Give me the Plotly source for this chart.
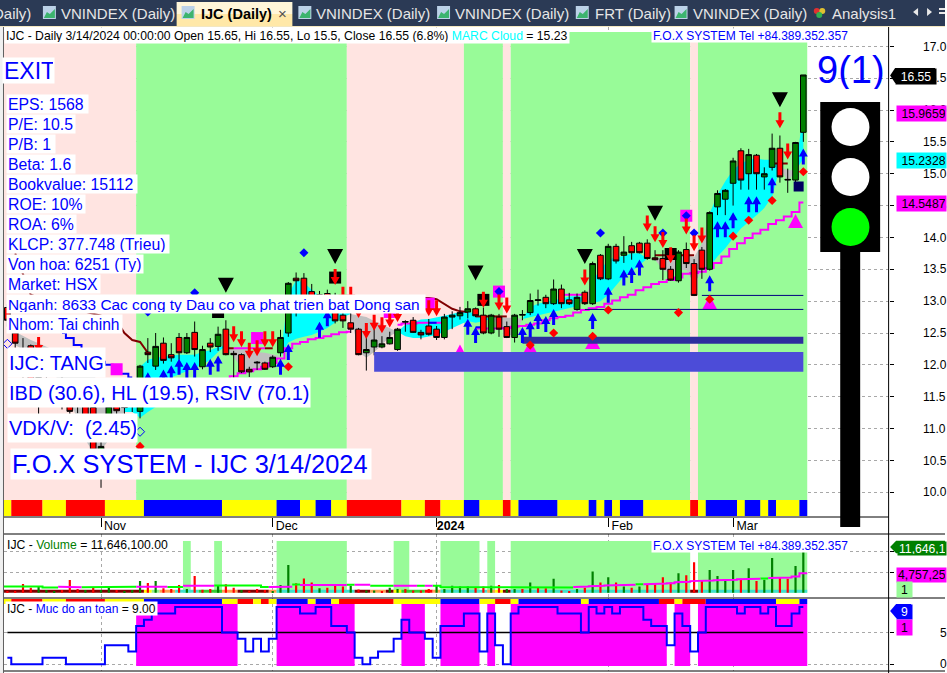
import plotly.graph_objects as go

W, H = 947, 673
N = 103
bar_index = list(range(N))

# ---------- price candles (bar 0 .. bar 102) ----------
opens = [12.90,12.50,11.85,12.30,11.45,11.65,11.50,11.70,11.60,11.42,11.60,11.33,10.45,10.90,11.35,11.33,11.35,11.27,12.20,11.98,
         12.34,12.16,12.43,12.19,12.51,11.97,12.34,12.29,12.56,12.18,12.16,11.93,12.03,12.03,11.97,12.19,12.50,13.36,13.36,13.15,
         13.10,13.12,13.00,12.78,12.66,12.56,12.19,12.28,12.28,12.33,12.24,12.67,12.70,12.51,12.61,12.56,12.43,12.75,12.77,12.83,
         12.88,12.78,12.50,12.75,12.60,12.43,12.78,12.82,13.01,13.06,12.96,13.19,13.02,12.87,13.14,12.96,13.72,13.35,13.86,13.72,
         13.87,13.91,13.91,13.68,13.67,13.50,13.32,13.81,13.59,13.80,13.50,14.48,14.60,14.85,15.36,15.00,15.29,14.95,15.10,15.40,
         14.90,14.90,15.65]
highs = [12.95,12.60,12.42,12.32,12.10,11.85,11.70,11.90,11.75,11.60,11.70,11.45,10.80,11.50,11.50,11.50,11.50,12.00,12.42,12.50,
         12.43,12.34,12.50,12.50,12.68,12.30,12.42,12.60,12.70,12.22,12.18,11.97,12.06,12.05,12.15,12.55,13.30,13.45,13.44,13.27,
         13.16,13.18,13.13,13.00,12.82,12.58,12.55,12.60,12.45,12.52,12.58,12.70,12.75,12.55,12.72,12.61,12.80,12.84,12.91,13.00,
         12.90,12.90,12.80,12.80,12.68,12.80,12.86,13.12,13.18,13.10,13.34,13.26,13.13,13.12,13.17,13.62,13.74,13.90,13.90,14.02,
         13.93,13.93,13.97,13.80,13.80,13.55,13.80,13.92,13.66,13.85,14.41,14.74,14.76,15.25,15.40,15.39,15.31,15.10,15.63,15.60,
         15.08,15.50,16.55]
lows = [12.60,12.25,11.70,11.40,11.20,11.35,11.35,11.30,11.22,11.24,11.10,10.60,10.07,10.80,11.10,11.20,11.26,11.16,12.03,11.92,
        12.02,12.05,12.08,12.17,12.13,11.93,12.20,12.22,12.15,11.80,11.87,11.81,11.92,11.92,11.95,12.13,12.44,12.76,12.85,12.90,
        12.85,12.85,12.65,12.58,12.50,12.15,11.91,12.15,12.26,12.32,12.22,12.52,12.50,12.40,12.46,12.39,12.40,12.56,12.71,12.73,
        12.75,12.48,12.48,12.44,12.42,12.35,12.70,12.78,12.93,12.89,12.94,12.89,12.94,12.85,12.94,12.94,13.33,13.33,13.59,13.60,
        13.65,13.75,13.65,13.64,13.33,13.32,13.29,13.52,13.08,13.35,13.48,14.35,14.35,14.50,14.75,14.75,14.75,14.75,15.05,14.86,
        14.70,14.75,15.50]
closes = [12.70,12.34,12.05,11.50,11.80,11.45,11.58,11.42,11.27,11.36,11.20,10.66,10.72,11.35,11.28,11.34,11.38,11.98,12.16,12.29,
          12.07,12.11,12.19,12.43,12.24,12.24,12.28,12.48,12.16,12.16,11.89,11.89,12.04,11.93,12.12,12.43,13.28,13.32,12.90,13.00,
          12.95,12.95,12.69,12.69,12.56,12.16,12.24,12.39,12.33,12.43,12.56,12.68,12.51,12.47,12.48,12.43,12.75,12.78,12.82,12.88,
          12.77,12.50,12.78,12.56,12.43,12.78,12.79,13.01,13.02,12.96,13.19,12.96,12.96,13.06,12.96,13.59,13.35,13.86,13.63,13.77,
          13.76,13.76,13.67,13.65,13.50,13.33,13.77,13.59,13.09,13.50,14.39,14.69,14.74,15.20,14.90,15.30,15.00,15.00,15.40,14.95,
          14.91,15.49,16.55]

# ---------- MARC cloud ----------
cloud_upper = [None,12.52,12.45,12.39,12.34,12.28,12.23,12.15,12.08,12.00,11.92,11.84,11.69,11.61,11.51,11.37,11.53,11.97,12.08,12.11,
               12.13,12.14,12.16,12.16,12.16,12.20,12.23,12.28,12.30,12.25,12.25,12.22,12.20,12.19,12.17,12.14,13.10,13.33,13.29,13.18,
               13.08,13.05,13.02,12.94,12.80,12.78,12.75,12.69,12.63,12.58,12.52,12.63,12.67,12.71,12.72,12.74,12.77,12.80,12.83,12.83,
               12.81,12.75,12.72,12.74,12.74,12.74,12.72,12.91,12.96,12.99,13.02,13.05,13.07,13.08,13.05,13.33,13.49,13.65,13.69,13.71,
               13.75,13.75,13.67,13.67,13.69,13.70,13.73,13.73,13.69,13.90,14.38,14.67,14.88,15.06,15.16,15.22,15.24,15.22,15.22,15.10,
               15.06,15.05,15.97]
cloud_lower = [None,12.31,12.24,12.16,12.08,11.97,11.85,11.69,11.45,11.14,10.82,10.63,10.66,10.82,11.05,11.26,11.26,11.17,11.26,11.34,
               11.53,11.80,11.86,11.91,11.95,12.00,12.08,12.20,12.30,12.12,11.95,11.89,11.92,12.00,12.08,12.14,12.35,12.41,12.44,12.47,
               12.52,12.58,12.66,12.75,12.80,12.20,12.11,12.20,12.31,12.45,12.52,12.45,12.42,12.42,12.44,12.47,12.52,12.58,12.63,12.69,
               12.66,12.69,12.72,12.63,12.49,12.44,12.72,12.75,12.77,12.80,12.83,12.86,12.89,12.92,13.05,12.97,13.00,13.10,13.25,13.39,
               13.46,13.57,13.67,13.65,13.49,13.44,13.49,13.49,13.28,13.46,13.54,13.70,13.83,13.99,14.14,14.25,14.35,14.46,14.64,15.10,
               14.87,15.05,15.23]
cloud_kind = ("-" + "G"*14 + "C"*13 + "G"*7 + "C"*9 + "G"*6 + "C"*12 + "G"*4 + "C"*8 + "G"*1
              + "C"*7 + "G"*8 + "C"*9 + "G"*2 + "C"*2)

# ---------- overlay lines ----------
magenta_line = [None]*18 + [11.36,11.36,11.40,11.44,11.48,11.52,11.56,11.60,11.64,11.70,11.76,11.82,11.87,11.90,11.93,11.97,12.03,12.10,
                12.26,12.33,12.36,12.40,12.42,12.45,12.48,12.51,12.52,None,None,None,None,None,12.63,12.65,12.65,12.66,12.66,12.66,12.66,
                None,None,None,12.57,12.57,12.57,12.57,12.58,12.60,12.61,12.63,12.65,12.70,12.73,12.75,12.77,12.82,12.86,12.89,12.91,12.96,
                13.01,13.06,13.10,13.17,13.22,13.27,13.30,13.33,13.37,13.43,13.44,13.46,13.52,13.60,13.70,13.82,13.91,13.99,14.06,14.12,
                14.21,14.27,14.33,14.40,14.55]
upper_magenta_index = [29,30,31,32,33, None, 48,49, None, 71,72,73,74]
upper_magenta_price = [12.26,12.26,12.26,12.26,12.26, None, 12.83,12.83, None, 13.10,13.10,13.10,13.10]
brown_index = [1,2,3,4,5,6,7,8,9,10,11,12,13,14,15,16,17,18,None,28,29,None,33,34,None,53,54,55,56,57,58,59,None,60,61,62,63,64,None,83,84,85,86,87,88,None,98,99,100]
brown_price = [13.75,13.43,13.10,13.05,13.00,12.96,12.93,12.90,12.87,12.84,12.80,12.77,12.73,12.69,12.50,12.39,12.36,12.19,None,12.26,12.26,None,12.26,12.26,None,13.05,13.05,13.03,12.95,12.88,12.84,12.83,None,12.76,12.76,12.76,12.76,12.76,None,13.72,13.72,13.72,13.72,13.72,13.72,None,15.16,15.16,15.16]
blue_index = [7,8,9,10,11,12,13,14,15,16,None,54,55,None,60,61]
blue_price = [12.50,12.42,12.31,12.20,12.10,12.05,12.00,11.95,11.86,11.80,None,12.66,12.66,None,12.59,12.59]

# ---------- signals (bar index, price) ----------
red_arrow_i = [99,100,74,82,83,84,85,87,88,89,54,55,61,63,64,42,29,30,31,32,33,34,43,44,45,46,47,48,49,50,4]
red_arrow_p = [15.84,15.35,13.37,14.22,14.05,13.96,13.72,14.17,13.91,14.03,12.89,12.89,13.02,12.98,12.93,13.38,12.48,12.40,12.22,12.26,12.40,12.40,13.10,13.10,12.86,12.53,12.66,12.62,12.71,12.80,12.31]
blue_arrow_i = [102,98,96,95,93,92,91,90,77,79,80,81,75,70,69,68,67,66,59,60,26,27,36,35,40,41,37,22,23,24,21,20,18]
blue_arrow_p = [15.27,14.82,14.52,14.52,14.27,14.13,14.13,13.28,13.10,13.37,13.41,13.53,12.69,12.75,12.64,12.69,12.56,12.47,12.60,12.47,11.97,12.02,12.20,11.97,12.55,12.73,12.94,11.97,11.92,11.92,11.87,11.80,11.76]
black_tri_i = [28,42,60,74,83,99]
black_tri_p = [13.25,13.70,13.44,13.70,14.38,16.16]
magenta_tri_i = [90,101,75,67,58]
magenta_tri_p = [12.97,14.25,12.35,12.27,12.20]
red_dot_i = [102,98,95,93,90,77,86,70,67,75,36,17]
red_dot_p = [15.03,14.58,14.27,14.02,13.03,12.86,12.82,12.50,12.31,12.45,11.97,10.72]
blue_dot_i = [38,63,76,84,87,88,24,18]
blue_dot_p = [13.76,13.15,14.07,14.07,14.34,14.07,13.13,12.83]
open_dot_i = [0,17]
open_dot_p = [12.33,10.95]
magenta_sq_i = [87,63,32,14,54,49]
magenta_sq_p = [14.34,13.15,12.42,11.93,12.96,12.83]
black_sq_i = [42,27,61,85]
black_sq_p = [13.37,12.83,13.02,13.74]
navy_sq_i = [101.4]
navy_sq_p = [14.80]

# ---------- support zones and levels ----------
zone_light = dict(start=47, end=102, low=11.89, high=12.20)
zone_dark = dict(start=66, end=102, low=12.33, high=12.44)
level_a = dict(start=74, end=102, price=12.87)
level_b = dict(start=89, end=102, price=13.09)

# ---------- per-bar regime strings ----------
regime = "P"*17 + "V"*27 + "P"*15 + "V"*5 + "P"*1 + "V"*23 + "P"*1 + "V"*14
strip_main = ("Y"+"R"*4+"Y"*3+"R"*5+"Y"*5+"B"*10+"Y"*7+"B"*3+"Y"*2+"B"*2+"Y"*2+"R"*7+"Y"*3+"R"*2+"Y"*3+"B"*2+"Y"*3+"R"+"Y"+"B"*5
              +"Y"*4+"B"+"Y"+"B"+"Y"+"B"*3+"Y"*6+"R"+"Y"+"B"*4+"Y"+"B"*2+"Y"+"B"+"Y"*3+"B")
strip_safety = ("Y"+"R"*4+"Y"*3+"R"*5+"Y"*5+"B"*10+"Y"*2+"R"*2+"Y"+"R"+"Y"+"B"*4+"Y"+"B"*2+"Y"+"R"*7+"Y"*6+"B"*5+"Y"*2+"R"*2+"Y"
                +"B"*8+"Y"+"B"*9+"R"*2+"Y"+"R"*3+"B"*9+"Y"*3+"B")
vol_band = "."*23+"V"+"."*3+"V"+"."*7+"V"*9+"."*6+"V"*2+"."*4+"V"*5+"."+"V"+"."*2+"V"*23+"."+"V"*14
safety_band = "."*17+"M"*13+"."*5+"M"*10+"."*6+"M"*3+"."*2+"M"*5+"."+"M"+"."*2+"M"*20+"."+"M"*2+"."+"M"*14
vol_strip = ("D"*18+"Y"+"L"+"O"*2+"T"*3+"G"*3+"O"*2+"D"*4+"O"+"T"*10+"D"*2+"O"*2+"D"+"Y"+"G"*3+"R"+"O"+"T"*6+"O"+"Y"+"D"+"T"*23+"D"+"T"*14)

# ---------- volume (millions of shares) ----------
volume = [0.3,0.3,2.13,1.2,1.47,0.65,0.4,0.65,3.1,0.9,0.65,1.3,0.65,1.6,0.65,0.4,0.65,2.9,2.4,2.9,
          1.1,0.9,1.9,0.9,4.1,0.75,0.9,1.7,2.05,1.2,0.65,0.5,0.9,0.65,0.4,1.9,6.8,2.3,3.5,2.5,
          1.1,1.2,2.05,1.5,1.7,0.8,0.55,0.55,0.4,1.2,0.9,0.9,0.55,0.55,0.9,1.7,0.9,1.7,1.5,1.5,
          1.2,1.5,1.7,1.9,0.9,0.9,0.9,2.5,1.2,1.1,3.4,0.55,0.3,0.9,1.2,5.2,2.5,3.8,2.5,1.55,
          1.2,1.55,1.9,2.05,3.8,2.5,4.8,4.3,7.5,3.1,5.6,4.1,2.9,5.6,3.4,6.0,2.9,3.2,8.5,3.6,
          3.4,6.55,11.646]
volume_ma = [1.5,1.5,1.5,1.5,1.5,1.3,1.3,1.45,1.45,1.35,1.35,1.3,1.3,1.3,1.3,1.3,1.45,1.45,1.45,1.45,
             1.45,1.4,1.4,1.7,1.7,1.7,1.7,1.8,1.8,1.8,1.8,1.8,1.8,1.4,1.4,1.45,1.45,2.0,1.9,1.9,
             1.9,1.9,1.9,1.9,1.95,1.95,1.95,1.7,1.7,1.7,1.7,1.7,1.7,1.7,1.7,1.7,1.4,1.4,1.4,1.4,
             1.4,1.25,1.25,1.25,1.25,1.25,1.25,1.3,1.3,1.3,1.3,1.3,1.3,1.4,1.5,1.6,1.7,1.8,1.85,1.9,
             1.95,2.05,2.1,2.15,2.25,2.35,2.55,2.7,2.85,2.95,3.0,3.05,3.1,3.2,3.3,3.45,3.45,3.5,3.6,3.65,
             3.75,4.0,4.76]
volume_ma_state = "L"*7+"M"*3+"L"*7+"M"*4+"L"*2+"M"*4+"L"*7+"M"*3+"L"+"M"*6+"L"+"M"*2+"L"*3+"M"*3+"L"+"M"+"L"*18+"M"*8+"L"+"M"*15+"L"+"M"*5

# per-bar colour of the volume columns, read left to right
volume_color = list("RRRRGGGRRRGRGGRGGGRG"
                    "RRRGRRRGRRGRRRGGGRRR"
                    "GRRRGRGGRGGRRRRGGGGG"
                    "RRGRGGRGRRGRRGRGRGRG"
                    "RGRRRRGRRRGGGGRGRGGR"
                    "RGG")

# ---------- safety score ----------
safety = [1,0,0,0,0,1,1,1,0,0,0,0,0,3,3,3,2,6,7,8,8,8,9,9,9,9,9,9,5,5,4,2,4,2,4,9,9,9,8,8,
          9,9,6,6,5,1,0,1,2,2,4,7,5,5,4,1,6,6,6,8,8,2,8,3,0,8,9,9,9,9,9,8,8,8,5,9,8,9,8,9,
          9,9,7,6,6,3,8,6,2,5,9,9,9,9,8,9,9,8,9,6,6,8,9]
safety_mid = [5]*N

# ---------- axes ----------
month_ticks = [12,34,55,77,93]
month_labels = ["Nov","Dec","<b>2024</b>","Feb","Mar"]
price_ticks = [10.0,10.5,11.0,11.5,12.0,12.5,13.0,13.5,14.0,14.5,15.0,15.5,16.0,16.5,17.0]
volume_ticks = [5,10]
safety_ticks = [0,5]

# ---------- pixel helpers (style only) ----------
PX_X = 1/7.82
PX_Y = 0.015696
price_range = [17-(517-46.3)*PX_Y, 17+(46.3-27)*PX_Y]
x_range = [-0.435, 112.93]
vol_range = [-1.3, 14.42]
safety_range = [-1.07, 10.42]
def dom(top, bottom): return [1-bottom/H, 1-top/H]
def px(x): return x/W
def py(y): return 1-y/H

RED, YEL, BLU = "#ff0000", "#ffff00", "#0000ff"
PALE, PINK, MAG = "#98fb98", "#ffe4e1", "#ff00ff"
code_col = {"R":RED,"Y":YEL,"B":BLU,"P":PINK,"V":PALE,"M":MAG,"D":"#800000","O":"#ffa050","T":"#40e0d0","G":"#32cd32","L":"#90ee90"}

def runs(code):
    out, s = [], 0
    for k in range(1, len(code)+1):
        if k == len(code) or code[k] != code[s]:
            out.append((s, k, code[s])); s = k
    return out

shapes = []
def strip(code, lo, hi, xref, yref):
    for a, b, c in runs(code):
        if c in code_col:
            shapes.append(dict(type="rect", xref=xref, yref=yref, x0=a-.5, x1=b-.5, y0=lo, y1=hi,
                               fillcolor=code_col[c], line_width=0, layer="between"))
strip(regime, 17-(516-46.3)*PX_Y, 17+(46.3-32)*PX_Y, "x", "y")
strip(strip_main, 17-(516-46.3)*PX_Y, 17-(500-46.3)*PX_Y, "x", "y")
strip(vol_band, 0, 12.7, "x2", "y2")
strip(vol_strip, 0, 0.74, "x2", "y2")
strip(safety_band, -0.3, 9.46, "x3", "y3")
strip(strip_safety, 9.46, 10.26, "x3", "y3")

def prect(x0, y0, x1, y1, fill, line=0, lc=None):
    shapes.append(dict(type="rect", xref="paper", yref="paper", x0=px(x0), x1=px(x1), y0=py(y1), y1=py(y0),
                       fillcolor=fill, line=dict(width=line, color=lc or fill), layer="above"))
def pline(x0, y0, x1, y1, c="black", w=1):
    shapes.append(dict(type="line", xref="paper", yref="paper", x0=px(x0), x1=px(x1), y0=py(y0), y1=py(y1),
                       line=dict(color=c, width=w), layer="above"))
def pcircle(cx, cy, r, fill):
    shapes.append(dict(type="circle", xref="paper", yref="paper", x0=px(cx-r), x1=px(cx+r), y0=py(cy+r), y1=py(cy-r),
                       fillcolor=fill, line_width=0, layer="above"))
def ppath(points, fill):
    d = "M" + " L".join(f"{px(a):.5f},{py(b):.5f}" for a, b in points) + " Z"
    shapes.append(dict(type="path", xref="paper", yref="paper", path=d, fillcolor=fill, line_width=0, layer="above"))

fig = go.Figure()

# cloud polygons on the base layer
def cloud_polygon(kind):
    xs, ys = [], []
    for a, b, c in runs(cloud_kind):
        if c != kind: continue
        rng = list(range(a, min(b+1, N)))
        xs += rng + rng[::-1] + [rng[0], None]
        ys += [cloud_upper[k] for k in rng] + [cloud_lower[k] for k in rng[::-1]] + [cloud_upper[rng[0]], None]
    return xs, ys
for kind, col in (("G", "#c0c0c0"), ("C", "#00ffff")):
    xs, ys = cloud_polygon(kind)
    fig.add_trace(go.Scatter(x=xs, y=ys, mode="lines", fill="toself", fillcolor=col, line=dict(width=0), hoverinfo="skip", yaxis="y", showlegend=False))

def line(x, y, col, w=2, shape="hvh", yaxis="y"):
    fig.add_trace(go.Scatter(x=x, y=y, mode="lines", line=dict(color=col, width=w, shape=shape), connectgaps=False,
                             hoverinfo="skip", yaxis=yaxis, showlegend=False))
line(bar_index, magenta_line, MAG)
line(upper_magenta_index, upper_magenta_price, MAG)
line(brown_index, brown_price, "#800000", 2, "linear")
line(blue_index, blue_price, BLU, 2, "hvh")

# candles on the first overlay
fig.add_trace(go.Candlestick(x=bar_index, open=opens, high=highs, low=lows, close=closes, yaxis="y4",
                             increasing=dict(fillcolor="#008000", line=dict(color="black", width=1)),
                             decreasing=dict(fillcolor="#ff0000", line=dict(color="black", width=1)),
                             whiskerwidth=0, hoverinfo="skip", showlegend=False))

# signals on the second overlay
ARROW_UP = [(0,8),(4.5,0),(1.5,0),(1.5,-8),(-1.5,-8),(-1.5,0),(-4.5,0)]
ARROW_DN = [(a,-b) for a,b in ARROW_UP]
TRI_DN = [(-8,7.5),(8,7.5),(0,-7.5)]
TRI_UP = [(-7.5,-6.5),(7.5,-6.5),(0,7.5)]
def glyphs(idx, price, outline, col):
    xs, ys = [], []
    for i, p in zip(idx, price):
        for a, b in outline + outline[:1]:
            xs.append(i + a*PX_X); ys.append(p + b*PX_Y)
        xs.append(None); ys.append(None)
    fig.add_trace(go.Scatter(x=xs, y=ys, mode="lines", fill="toself", fillcolor=col, line=dict(width=0),
                             hoverinfo="skip", yaxis="y5", showlegend=False))
def dots(idx, price, sym, size, col, lw=0):
    fig.add_trace(go.Scatter(x=idx, y=price, mode="markers", yaxis="y5", hoverinfo="skip", showlegend=False,
                             marker=dict(symbol=sym, size=size, color=col, line=dict(width=lw, color=col))))
dots(magenta_sq_i, magenta_sq_p, "square", 12, MAG)
dots(black_sq_i, black_sq_p, "square", 12, "black")
dots(navy_sq_i, navy_sq_p, "square", 10, "#000060")
glyphs(magenta_tri_i, magenta_tri_p, TRI_UP, MAG)
for z, col in ((zone_light, "#4c4cd8"), (zone_dark, "#2e2e9e")):
    fig.add_trace(go.Scatter(x=[z["start"], z["end"], z["end"], z["start"], z["start"]],
                             y=[z["low"], z["low"], z["high"], z["high"], z["low"]],
                             mode="lines", fill="toself", fillcolor=col, line=dict(width=0), hoverinfo="skip", yaxis="y5", showlegend=False))
for lv in (level_a, level_b):
    fig.add_trace(go.Scatter(x=[lv["start"], lv["end"]], y=[lv["price"], lv["price"]], mode="lines",
                             line=dict(color="#000080", width=1), hoverinfo="skip", yaxis="y5", showlegend=False))
dots(red_dot_i, red_dot_p, "diamond", 7, RED)
dots(blue_dot_i, blue_dot_p, "diamond", 7, BLU)
dots(open_dot_i, open_dot_p, "diamond-open", 7, BLU, 1)
glyphs(black_tri_i, black_tri_p, TRI_DN, "black")
glyphs(red_arrow_i, red_arrow_p, ARROW_DN, RED)
glyphs(blue_arrow_i, blue_arrow_p, ARROW_UP, BLU)

# volume panel
vol_cols = ["#008000" if c == "G" else RED for c in volume_color]
fig.add_trace(go.Bar(x=bar_index, y=volume, width=0.28, marker=dict(color=vol_cols, line_width=0), xaxis="x2", yaxis="y2", hoverinfo="skip", showlegend=False))
def step_runs(state):
    xs, ys = [], []
    for k in bar_index:
        if volume_ma_state[k] == state:
            xs += [k-.5, k+.5]; ys += [volume_ma[k]]*2
            if k+1 == N or volume_ma_state[k+1] != state:
                xs.append(None); ys.append(None)
    return xs, ys
for st, col in (("L", "#00ff00"), ("M", MAG)):
    xs, ys = step_runs(st)
    fig.add_trace(go.Scatter(x=xs, y=ys, mode="lines", line=dict(color=col, width=2), xaxis="x2", yaxis="y2", hoverinfo="skip", showlegend=False))

# safety panel
fig.add_trace(go.Scatter(x=bar_index, y=safety_mid, mode="lines", line=dict(color="black", width=1.5), xaxis="x3", yaxis="y3", hoverinfo="skip", showlegend=False))
fig.add_trace(go.Scatter(x=bar_index, y=safety, mode="lines", line=dict(color=BLU, width=2, shape="hvh"), xaxis="x3", yaxis="y3", hoverinfo="skip", showlegend=False))

# chrome
prect(0, 0, W, 26, "#2b3a55")
prect(0, 26, W, 27, "#f3e7c0")
prect(0, 27, 3.5, H, "#f0f0f0")
pline(3.5, 27, 3.5, H, "#606060", 1)
pline(4, 517, 890.5, 517)
pline(4, 534, W, 534)
pline(4, 598, W, 598)
pline(4, 671, W, 671)
pline(890.5, 27, 890.5, H)
prect(177, 2, 293, 14, "#fff6d9")
prect(177, 14, 293, 26, "#ffe8a8")
for ix in (43, 182, 299, 438, 577, 676):
    prect(ix, 6, ix+13, 19, "#bcd2e8")
    ppath([(ix+1,18),(ix+4,12),(ix+7,14),(ix+12,9),(ix+12,18)], "#3cb46e")
pcircle(818.5, 11, 3, "#e03030")
pcircle(824, 11, 3, "#e0c030")
pcircle(821, 15, 3, "#30b050")
ppath([(915,12),(920,8),(920,16)], "#e8e8e8")
ppath([(934,12),(929,8),(929,16)], "#e8e8e8")
prect(941, 8, 947, 10, "#e8e8e8")
prect(941, 12, 947, 14, "#e8e8e8")
# traffic light
prect(842, 252, 862, 527, "black")
prect(822, 102, 882, 252, "black")
pcircle(852.3, 127, 19, "white")
pcircle(852.3, 177, 19, "white")
pcircle(852.3, 227, 19, "#00ff00")
# price tags
ppath([(892,75.5),(897,68),(937,68),(937,83),(897,83)], "black")
ppath([(892,547),(898,540.7),(947,540.7),(947,553.3),(898,553.3)], "#008000")
ppath([(892,611),(898,604),(913,604),(913,618),(898,618)], BLU)

FONT = "Liberation Sans"
anns = []
def label(text, x, y, w, h, size, color=BLU, bg="white", align="left"):
    anns.append(dict(text=text, xref="paper", yref="paper", x=px(x), y=py(y), xanchor="left", yanchor="top",
                     width=max(w-2, 1), height=max(h-2, 1), align=align, valign="middle", showarrow=False, borderpad=1,
                     bgcolor=bg, font=dict(family=FONT, size=size, color=color)))
def tab(text, x, size=15, color="#e6e6e6", anchor="left"):
    anns.append(dict(text=text, xref="paper", yref="paper", x=px(x), y=py(13.5), xanchor=anchor, yanchor="middle",
                     showarrow=False, borderpad=0, font=dict(family=FONT, size=size, color=color)))
tab("Daily)", 32, anchor="right")
tab("VNINDEX (Daily)", 60)
tab("<b>IJC (Daily)</b>", 200, 14.5, "black")
tab("×", 278, 15, "#505050")
tab("VNINDEX (Daily)", 316)
tab("VNINDEX (Daily)", 455)
tab("FRT (Daily)", 595)
tab("VNINDEX (Daily)", 693)
tab("Analysis1", 833)

label('IJC - Daily 3/14/2024 00:00:00 Open 15.65, Hi 16.55, Lo 15.5, Close 16.55 (6.8%) <span style="color:#00ffff">MARC Cloud</span> = 15.23',
      4, 27, 564, 15, 12.2, "black")
label("F.O.X SYSTEM Tel +84.389.352.357", 652, 28, 197, 13, 12, BLU)
label("EXIT", 2, 57, 51, 25, 23)
rows = ["EPS: 1568","P/E: 10.5","P/B: 1","Beta: 1.6","Bookvalue: 15112","ROE: 10%","ROA: 6%","KLCP: 377.748 (Trieu)",
        "Von hoa: 6251 (Ty)","Market: HSX","Nganh: 8633 Cac cong ty Dau co va phat trien bat Dong san","Nhom: Tai chinh"]
row_w = [80,67,47,67,129,77,68,161,135,92,417,114]
row_font = [15.8]*10 + [15.4, 15.6]
for k, (t, w, fs) in enumerate(zip(rows, row_w, row_font)):
    label(t, 6, 94+20*k, w+1, 18, fs)
label("IJC: TANG", 7, 347, 97, 29, 20)
label("IBD (30.6), HL (19.5), RSIV (70.1)", 7, 377, 302, 29, 20)
label("VDK/V:  (2.45)", 7, 413, 129, 28, 20)
label("F.O.X SYSTEM - IJC 3/14/2024", 10, 448, 360, 30, 25.4)
label("9(1)", 817, 49, 68, 40, 38, BLU, None)
label('IJC - <span style="color:#008000">Volume</span> = 11,646,100.00', 5, 538, 165, 12, 12.2, "black", None)
label("F.O.X SYSTEM Tel +84.389.352.357", 652, 538, 197, 13, 12, BLU)
label('IJC - <span style="color:#0000ff">Muc do an toan</span> = 9.00', 5, 601, 151, 13, 12, "black")

label("16.55", 897, 68, 40, 15, 12.2, "white", "black", "center")
label("&nbsp;15.9659", 898, 105, 49, 15, 12.2, "black", MAG)
label("&nbsp;15.2328", 898, 152, 49, 15, 12.2, "black", "#00ffff")
label("&nbsp;14.5487", 898, 195, 49, 15, 12.2, "black", MAG)
label("11,646,1", 899, 541, 48, 13, 12.2, "white", "#008000")
label("4,757,25", 898, 567, 49, 14, 12.2, "black", MAG)
label("1", 898, 581, 15, 15, 12.2, "black", PALE, "center")
label("9", 898, 604, 15, 14, 12.2, "white", BLU, "center")
label("1", 898, 619, 15, 15, 12.2, "black", MAG, "center")

grid = dict(griddash="dot", gridcolor="#a8a8a8", gridwidth=1)
xcommon = dict(range=x_range, domain=[px(4), px(890.5)], tickmode="array", tickvals=month_ticks, showgrid=True, zeroline=False, fixedrange=True, **grid)
ycommon = dict(side="right", showgrid=True, zeroline=False, showline=False, ticks="outside", ticklen=4, tickcolor="black", fixedrange=True,
               tickfont=dict(family=FONT, size=12, color="black"), **grid)
fig.update_layout(
    width=W, height=H, margin=dict(l=0, r=0, t=0, b=0), paper_bgcolor="white", plot_bgcolor="white",
    showlegend=False, barmode="overlay", boxgap=0.15, boxgroupgap=0.15, annotations=anns, shapes=shapes,
    xaxis=dict(**xcommon, anchor="y", ticktext=month_labels, ticks="outside", ticklen=9, tickcolor="black",
               ticklabelshift=14, ticklabelstandoff=-12, tickfont=dict(family=FONT, size=12.4, color="black"), rangeslider=dict(visible=False)),
    xaxis2=dict(**xcommon, anchor="y2", matches="x", showticklabels=False, ticks=""),
    xaxis3=dict(**xcommon, anchor="y3", matches="x", showticklabels=False, ticks=""),
    yaxis=dict(**ycommon, domain=dom(27, 517), range=price_range, anchor="x", tickvals=price_ticks, tickformat=".1f", ticklabelstandoff=27),
    yaxis2=dict(**ycommon, domain=dom(534, 598), range=vol_range, anchor="x2", tickvals=volume_ticks, showticklabels=False),
    yaxis3=dict(**ycommon, domain=dom(598, 671), range=safety_range, anchor="x3", tickvals=safety_ticks, ticklabelstandoff=44),
    yaxis4=dict(overlaying="y", range=price_range, visible=False, anchor="x", side="right", showgrid=False, fixedrange=True),
    yaxis5=dict(overlaying="y", range=price_range, visible=False, anchor="x", side="right", showgrid=False, fixedrange=True),
)
post = """
var d=document, e=d.documentElement, b=d.body;
e.style.margin='0'; e.style.overflow='hidden'; e.style.width='947px'; e.style.height='673px';
b.style.margin='0'; b.style.overflow='hidden'; b.style.width='947px'; b.style.height='673px';
d.querySelectorAll('.plotly-graph-div').forEach(function(g){g.style.width='947px';g.style.height='673px';g.style.overflow='hidden';});
d.querySelectorAll('.main-svg').forEach(function(s){s.style.overflow='hidden';});
"""
fig.write_html("out.html", config=dict(displayModeBar=False), post_script=post)
